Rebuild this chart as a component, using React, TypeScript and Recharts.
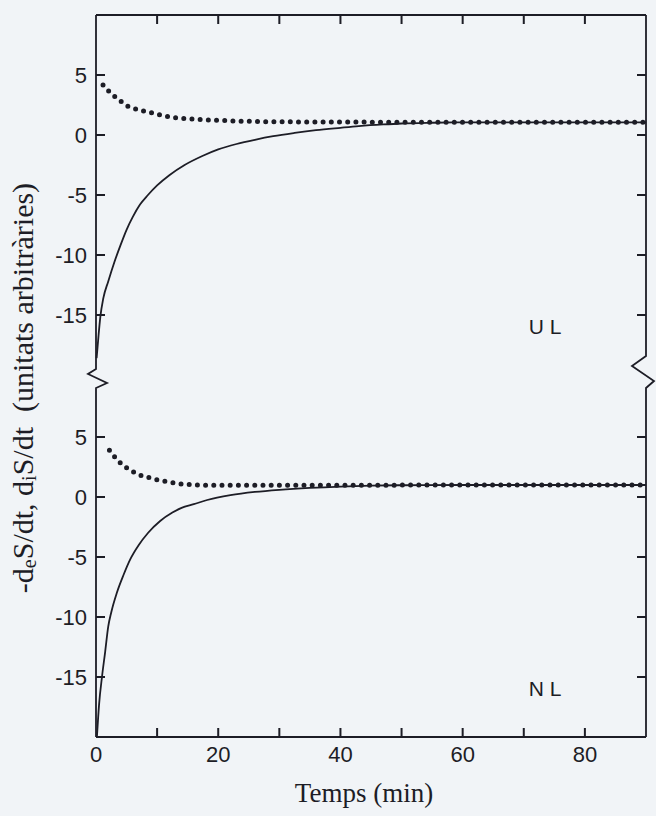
import { LineChart, Line, XAxis, YAxis, ReferenceDot } from 'recharts';

// UL panel (top)
const ulSolidT = [0.1, 0.4, 0.7, 1.2, 2, 3, 4, 5, 6, 7.2, 8.5, 10, 12, 14.5, 17.4, 20, 23, 26, 29, 32.5, 36, 40, 43, 47, 50, 55, 60, 70, 80, 90];
const ulSolidV = [-18.6, -16.8, -15.2, -13.6, -12.2, -10.6, -9.2, -7.9, -6.85, -5.8, -5.0, -4.2, -3.35, -2.5, -1.75, -1.2, -0.75, -0.4, -0.1, 0.17, 0.4, 0.6, 0.74, 0.88, 0.96, 1.02, 1.05, 1.06, 1.06, 1.06];
const ulDotT = [1.15, 2.2, 3.1, 4.1, 5.2, 6.3, 7.5, 8.9, 10.1, 11.3, 12.7, 14, 16.4, 20, 25, 30, 40, 50, 60, 70, 80, 90];
const ulDotV = [4.17, 3.6, 3.2, 2.8, 2.4, 2.2, 2.03, 1.87, 1.72, 1.58, 1.45, 1.39, 1.31, 1.22, 1.14, 1.1, 1.08, 1.07, 1.07, 1.07, 1.07, 1.07];

// NL panel (bottom)
const nlSolidT = [0.15, 0.5, 1.0, 1.5, 2, 2.5, 3.4, 4.5, 5.6, 7, 8.5, 10.5, 12.5, 14, 16, 18.2, 22, 26, 30, 35, 40, 45, 50, 60, 70, 80, 90];
const nlSolidV = [-20, -17.3, -14.9, -12.9, -10.8, -9.6, -8.0, -6.5, -5.2, -4.0, -3.0, -2.0, -1.3, -0.9, -0.6, -0.25, 0.15, 0.42, 0.6, 0.76, 0.87, 0.94, 0.98, 1.0, 1.0, 1.0, 1.0];
const nlDotT = [2.2, 3.3, 4.4, 5.6, 6.9, 8.4, 10.1, 11.8, 13.4, 15, 16.5, 20, 25, 30, 40, 50, 60, 70, 80, 90];
const nlDotV = [3.9, 3.2, 2.65, 2.25, 1.88, 1.65, 1.43, 1.27, 1.12, 1.05, 1.0, 0.98, 0.97, 0.97, 0.98, 0.99, 1.0, 1.0, 1.0, 1.0];

const xTicks = [0, 10, 20, 30, 40, 50, 60, 70, 80, 90];
const xLabels = [0, 20, 40, 60, 80];
const yTicks = [-15, -10, -5, 0, 5];
const panelLabels = ['U L', 'N L'];

const X_MIN = 0;
const X_MAX = 90;
const Y_MIN = -20;
const Y_MAX = 10;
const TICK_LEN = 9;
const LABEL_GAP = 9;

// plot frame, shared by the two charts and the overlay
const LEFT = 96;
const RIGHT = 646;
const TOP_PANEL = { top: 15, bottom: 375 };
const BOTTOM_PANEL = { top: 377, bottom: 737 };

const ink = '#1d1d26';
const bg = '#f1f4f7';
const sans = '"Liberation Sans", Arial, sans-serif';
const serif = '"Liberation Serif", "Times New Roman", serif';

type Pt = { t: number; v: number };
const toPoints = (t: number[], v: number[]): Pt[] => t.map((x, i) => ({ t: x, v: v[i] }));

const xPix = (t: number) => LEFT + ((t - X_MIN) / (X_MAX - X_MIN)) * (RIGHT - LEFT);
const yPix = (v: number, p: { top: number; bottom: number }) =>
  p.top + ((Y_MAX - v) / (Y_MAX - Y_MIN)) * (p.bottom - p.top);

// inward tick marks of the frame
const frameTicks = () => {
  const d: string[] = [];
  xTicks
    .filter((t) => t > X_MIN && t < X_MAX)
    .forEach((t) => {
      const x = xPix(t);
      d.push(`M${x},${TOP_PANEL.top}v${TICK_LEN}`);
      d.push(`M${x},${BOTTOM_PANEL.bottom}v${-TICK_LEN}`);
    });
  [TOP_PANEL, BOTTOM_PANEL].forEach((p) =>
    yTicks.forEach((v) => {
      const y = yPix(v, p);
      d.push(`M${LEFT},${y}h${TICK_LEN}`);
      d.push(`M${RIGHT},${y}h${-TICK_LEN}`);
    })
  );
  return d.join(' ');
};

const BottomTick = (props: any) => {
  const { x, y, payload } = props;
  if (!xLabels.includes(payload.value)) return <g />;
  return (
    <text x={x} y={y + 16} textAnchor="middle" fontSize={22} fontFamily={sans} fill={ink}>
      {payload.value}
    </text>
  );
};

const LeftTick = (props: any) => {
  const { x, y, payload } = props;
  return (
    <text x={x} y={y + 8} textAnchor="end" fontSize={22} fontFamily={sans} fill={ink}>
      {payload.value}
    </text>
  );
};

interface PanelProps {
  solid: Pt[];
  dots: Pt[];
  label: string;
  bottom: boolean;
}

const Panel = ({ solid, dots, label, bottom }: PanelProps) => (
  <LineChart
    width={656}
    height={bottom ? 444 : 380}
    margin={bottom ? { top: 5, right: 10, bottom: 4, left: 36 } : { top: 5, right: 10, bottom: 5, left: 36 }}
  >
    <XAxis
      dataKey="t"
      type="number"
      domain={[X_MIN, X_MAX]}
      ticks={xTicks}
      orientation={bottom ? 'bottom' : 'top'}
      height={bottom ? 75 : 10}
      stroke={ink}
      strokeWidth={1.8}
      tickLine={false}
      tickSize={0}
      tickMargin={LABEL_GAP}
      interval={0}
      tick={bottom ? <BottomTick /> : false}
      label={bottom ? { value: 'Temps (min)', position: 'insideBottom', offset: 10, dx: -7, fontSize: 27, fontFamily: serif, fill: ink } : undefined}
    />
    <YAxis
      type="number"
      domain={[Y_MIN, Y_MAX]}
      ticks={yTicks}
      width={60}
      axisLine={false}
      tickLine={false}
      tickSize={0}
      tickMargin={LABEL_GAP}
      interval={0}
      tick={<LeftTick />}
    />
    <Line data={solid} dataKey="v" type="monotone" stroke={ink} strokeWidth={1.8} dot={false} isAnimationActive={false} />
    <Line
      data={dots}
      dataKey="v"
      type="monotone"
      stroke={ink}
      strokeWidth={5}
      strokeDasharray="0 8.2"
      strokeLinecap="round"
      dot={false}
      isAnimationActive={false}
    />
    <ReferenceDot
      x={73.5}
      y={-16}
      r={0}
      fill="none"
      stroke="none"
      label={{ value: label, position: 'center', fontSize: 21, fontFamily: sans, fill: ink }}
    />
  </LineChart>
);

export default function App() {
  return (
    <div style={{ position: 'absolute', left: 0, top: 0, width: 656, height: 816, background: bg, overflow: 'hidden' }}>
      <div style={{ position: 'absolute', left: 0, top: 0 }}>
        <Panel solid={toPoints(ulSolidT, ulSolidV)} dots={toPoints(ulDotT, ulDotV)} label={panelLabels[0]} bottom={false} />
      </div>
      <div style={{ position: 'absolute', left: 0, top: 372 }}>
        <Panel solid={toPoints(nlSolidT, nlSolidV)} dots={toPoints(nlDotT, nlDotV)} label={panelLabels[1]} bottom={true} />
      </div>
      {/* frame sides with the axis-break marks, and the inward ticks */}
      <svg width={656} height={816} style={{ position: 'absolute', left: 0, top: 0, pointerEvents: 'none' }}>
        <path d={`M${LEFT} ${TOP_PANEL.top} V369 L88 374 L107 383 L${LEFT} 388 V${BOTTOM_PANEL.bottom}`} fill="none" stroke={ink} strokeWidth={1.8} />
        <path d={`M${RIGHT} ${TOP_PANEL.top} V356 L632 366 L654 381 L${RIGHT} 388 V${BOTTOM_PANEL.bottom}`} fill="none" stroke={ink} strokeWidth={1.8} />
        <path d={frameTicks()} fill="none" stroke={ink} strokeWidth={2} />
        <text
          x={22}
          y={388}
          transform="rotate(-90, 22, 388)"
          textAnchor="middle"
          dominantBaseline="central"
          fontFamily={serif}
          fontSize={30}
          fill={ink}
        >
          -d<tspan fontSize={20} dy={7}>e</tspan>
          <tspan dy={-7}>S/dt, d</tspan>
          <tspan fontSize={20} dy={7}>i</tspan>
          <tspan dy={-7}>{'S/dt\u00a0\u00a0(unitats arbitràries)'}</tspan>
        </text>
      </svg>
    </div>
  );
}
